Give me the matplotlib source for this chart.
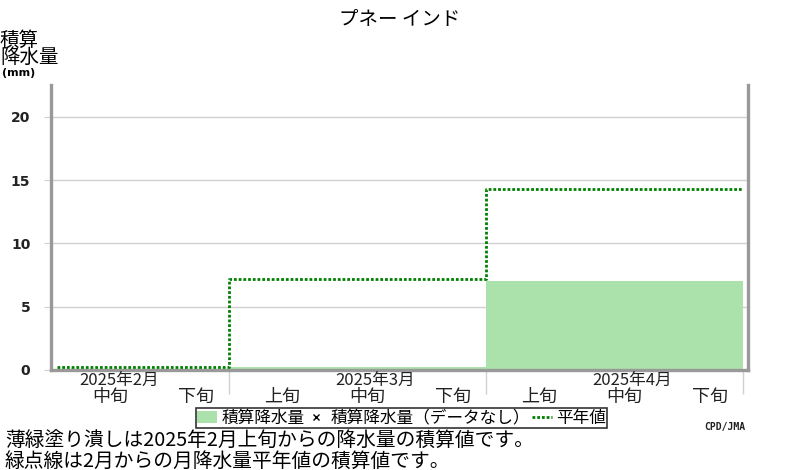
import numpy as np
import matplotlib
matplotlib.use('Agg')
import matplotlib.pyplot as plt
from matplotlib.patches import Patch
from matplotlib.lines import Line2D
import matplotlib.transforms as mtransforms

plt.rcParams['font.family'] = ['Noto Sans CJK JP', 'DejaVu Sans']

# 旬ごとの値 (2025年2月中旬 〜 4月下旬)
dekads = ['中旬', '下旬', '上旬', '中旬', '下旬', '上旬', '中旬', '下旬']
months = ['2025年2月', '2025年3月', '2025年4月']
month_pos = [0.72, 3.71, 6.71]
precip = [0.0, 0.0, 0.2, 0.2, 0.2, 7.0, 7.0, 7.0]
normal = [0.2, 0.2, 7.2, 7.2, 7.2, 14.3, 14.3, 14.3]
month_bounds = [2, 5, 8]

green = '#abe2ab'
dotgreen = '#008000'
frame = '#999999'
grid = '#d0d0d0'

fig = plt.figure(figsize=(8, 4.7), dpi=100)
ax = fig.add_axes([0.064, 0.213, 0.871, 0.606])

x = np.arange(len(precip))
ax.bar(x, precip, width=1.0, align='edge', color=green, linewidth=0, zorder=2)
xs = np.arange(len(normal) + 1)
ys = normal + [normal[-1]]
ax.step(xs, ys, where='post', color=dotgreen, lw=2.0,
        linestyle=(0, (1.0, 0.7)), dash_capstyle='butt', zorder=3)

ax.set_xlim(-0.07, 8.06)
ax.set_ylim(0, 22.5)
ax.set_yticks([0, 5, 10, 15, 20])
ax.yaxis.grid(True, color=grid, lw=1)
ax.set_axisbelow(True)
ax.tick_params(axis='y', length=5, color=grid, pad=10, labelsize=10)
for lab in ax.get_yticklabels():
    lab.set_family('DejaVu Sans')
    lab.set_fontweight('bold')
    lab.set_color('#222222')

ax.set_xticks(month_bounds)
ax.set_xticklabels([])
ax.tick_params(axis='x', length=17, color=grid, width=1)

for s in ['left', 'bottom', 'right']:
    ax.spines[s].set_color(frame)
    ax.spines[s].set_linewidth(2.4)
ax.spines['top'].set_visible(False)

trans = mtransforms.blended_transform_factory(ax.transData, ax.transAxes)
for i, d in enumerate(dekads):
    ax.text(i + 0.62, -0.095, d, transform=trans, ha='center', va='center',
            fontsize=13, color='#222222')
for p, m in zip(month_pos, months):
    ax.text(p, -0.037, m, transform=trans, ha='center', va='center',
            fontsize=12, color='#222222')

fig.text(0.5, 1 - 20 / 470, 'プネー インド', ha='center', va='center', fontsize=14)
fig.text(0.0, 1 - 49 / 470, '積算\n降水量', ha='left', va='center', fontsize=14,
         linespacing=0.8)
fig.text(0.002, 1 - 73 / 470, '(mm)', ha='left', va='center', fontsize=8,
         fontweight='bold', family='DejaVu Sans')

handles = [Patch(facecolor=green, edgecolor='none'),
           Line2D([], [], color='black', marker='x', linestyle='none', markersize=5),
           Line2D([], [], color=dotgreen, lw=2, linestyle=(0, (1.0, 0.7)))]
labels = ['積算降水量', '積算降水量（データなし）', '平年値']
leg = fig.legend(handles, labels, loc='center', bbox_to_anchor=(0.502, 1 - 418 / 470),
                 ncol=3, fontsize=12, frameon=True, fancybox=False, borderpad=0.1,
                 handlelength=1.2, handletextpad=0.25, columnspacing=0.1,
                 borderaxespad=0)
leg.get_frame().set_edgecolor('black')
leg.get_frame().set_linewidth(1.2)

fig.text(0.006, 1 - 441 / 470, '薄緑塗り潰しは2025年2月上旬からの降水量の積算値です。',
         ha='left', va='center', fontsize=14.2)
fig.text(0.006, 1 - 461 / 470, '緑点線は2月からの月降水量平年値の積算値です。',
         ha='left', va='center', fontsize=14.2)
fig.text(0.906, 1 - 427 / 470, 'CPD/JMA', ha='center', va='center', fontsize=7,
         fontweight='bold', family='DejaVu Sans Mono', color='#222222')

fig.savefig('out.png', dpi=100)
